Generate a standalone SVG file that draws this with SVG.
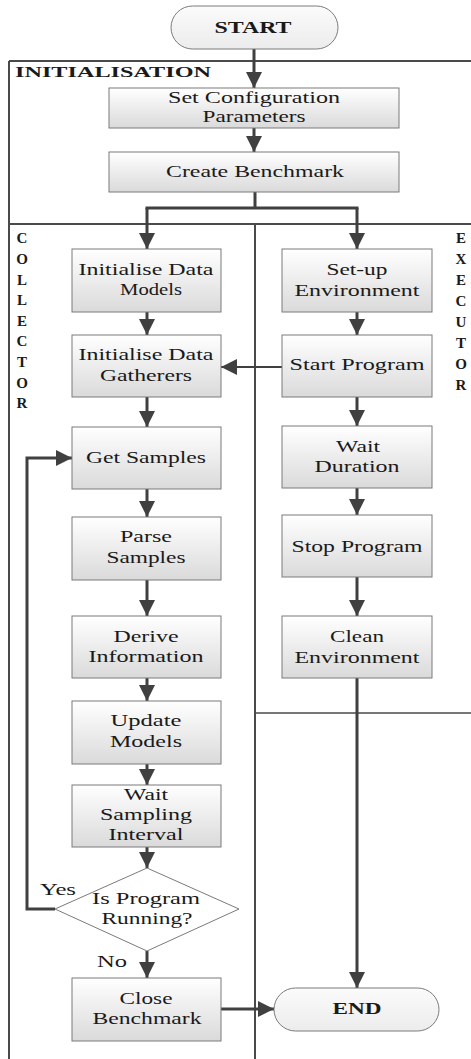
<svg xmlns="http://www.w3.org/2000/svg" width="471" height="1059" viewBox="0 0 471 1059">
<style>
.box{fill:url(#g);stroke:#7a7a7a;stroke-width:1}
.term{fill:url(#g2);stroke:#7a7a7a;stroke-width:1}
.dia{fill:#ffffff;stroke:#7a7a7a;stroke-width:1}
.frame{fill:none;stroke:#4a4a4a;stroke-width:2}
.c{fill:none;stroke:#404040;stroke-width:3;marker-end:url(#ah)}
.cn{fill:none;stroke:#404040;stroke-width:3}
.t{font-family:'Liberation Serif','Times New Roman',serif;font-size:17.5px;fill:#1a1a1a;text-anchor:middle}
.b{font-family:'Liberation Serif','Times New Roman',serif;font-size:17.5px;font-weight:bold;fill:#1a1a1a;text-anchor:middle}
.lane{font-family:'Liberation Serif','Times New Roman',serif;font-size:15px;font-weight:bold;fill:#1a1a1a;text-anchor:middle}
</style>
<defs>
<linearGradient id="g" x1="0" y1="0" x2="0" y2="1">
<stop offset="0" stop-color="#ffffff"/>
<stop offset="1" stop-color="#dadada"/>
</linearGradient>
<linearGradient id="g2" x1="0" y1="0" x2="0" y2="1">
<stop offset="0" stop-color="#fbfbfb"/>
<stop offset="1" stop-color="#ececec"/>
</linearGradient>
<marker id="ah" viewBox="0 0 16 16" refX="16" refY="8" markerWidth="16" markerHeight="16" markerUnits="userSpaceOnUse" orient="auto">
<path d="M0,0 L16,8 L0,16 Z" fill="#404040"/>
</marker>
</defs>

<g id="lanes">
<path class="frame" d="M9,61 H471 M9,61 V1059 M9,224 H471 M255,224 V1059"/>
<path d="M255,713 H471" fill="none" stroke="#4a4a4a" stroke-width="1.5"/>
<text class="b" x="113" y="77" textLength="196" lengthAdjust="spacingAndGlyphs" style="font-size:15px">INITIALISATION</text>
<text class="lane"><tspan x="22" y="243">C</tspan><tspan x="22" y="264">O</tspan><tspan x="22" y="285">L</tspan><tspan x="22" y="305">L</tspan><tspan x="22" y="326">E</tspan><tspan x="22" y="346">C</tspan><tspan x="22" y="367">T</tspan><tspan x="22" y="388">O</tspan><tspan x="22" y="408">R</tspan></text>
<text class="lane"><tspan x="461" y="243">E</tspan><tspan x="461" y="264">X</tspan><tspan x="461" y="285">E</tspan><tspan x="461" y="306">C</tspan><tspan x="461" y="327">U</tspan><tspan x="461" y="348">T</tspan><tspan x="461" y="369">O</tspan><tspan x="461" y="390">R</tspan></text>
</g>

<g id="connectors">
<path class="c" d="M254,49 V88"/>
<path class="c" d="M254,128 V152"/>
<path class="cn" d="M255,192 V208 M145.5,208 H358.5"/>
<path class="c" d="M147,208 V249"/>
<path class="c" d="M357,208 V249"/>
<path class="c" d="M147,312 V335"/>
<path class="c" d="M147,397 V427"/>
<path class="c" d="M147,489 V517"/>
<path class="c" d="M147,580 V616"/>
<path class="c" d="M147,678 V701"/>
<path class="c" d="M147,764 V785"/>
<path class="c" d="M147,847 V868"/>
<path class="c" d="M147,951 V978"/>
<path class="c" d="M55,909 H27 V458 H72"/>
<path class="c" d="M221,1009 H274"/>
<path class="c" d="M357,312 V335"/>
<path class="c" d="M357,397 V426"/>
<path class="c" d="M357,488 V515"/>
<path class="c" d="M357,577 V616"/>
<path class="c" d="M357,678 V988"/>
<path class="c" d="M282,367 H221" style="stroke-width:2"/>
<text class="t" x="58" y="895" textLength="36" lengthAdjust="spacingAndGlyphs">Yes</text>
<text class="t" x="112" y="967" textLength="30" lengthAdjust="spacingAndGlyphs">No</text>
</g>

<g id="start">
<rect class="term" x="171" y="6" width="167" height="43" rx="21.5"/>
<text class="b" x="253" y="33" textLength="77" lengthAdjust="spacingAndGlyphs">START</text>
</g>
<g id="set-config">
<rect class="box" x="109" y="88" width="290" height="40"/>
<text class="t" x="254" y="103" textLength="172" lengthAdjust="spacingAndGlyphs">Set Configuration</text>
<text class="t" x="254" y="122" textLength="103" lengthAdjust="spacingAndGlyphs">Parameters</text>
</g>
<g id="create-benchmark">
<rect class="box" x="109" y="152" width="290" height="40"/>
<text class="t" x="255" y="177" textLength="178" lengthAdjust="spacingAndGlyphs">Create Benchmark</text>
</g>

<g id="init-models">
<rect class="box" x="72" y="249" width="149" height="63"/>
<text class="t" x="146" y="275" textLength="135" lengthAdjust="spacingAndGlyphs">Initialise Data</text>
<text class="t" x="151" y="295" textLength="62" lengthAdjust="spacingAndGlyphs">Models</text>
</g>
<g id="init-gatherers">
<rect class="box" x="72" y="335" width="149" height="62"/>
<text class="t" x="146" y="360" textLength="135" lengthAdjust="spacingAndGlyphs">Initialise Data</text>
<text class="t" x="146" y="381" textLength="92" lengthAdjust="spacingAndGlyphs">Gatherers</text>
</g>
<g id="get-samples">
<rect class="box" x="72" y="427" width="149" height="62"/>
<text class="t" x="146" y="463" textLength="120" lengthAdjust="spacingAndGlyphs">Get Samples</text>
</g>
<g id="parse-samples">
<rect class="box" x="72" y="517" width="149" height="63"/>
<text class="t" x="146" y="542" textLength="52" lengthAdjust="spacingAndGlyphs">Parse</text>
<text class="t" x="146" y="563" textLength="79" lengthAdjust="spacingAndGlyphs">Samples</text>
</g>
<g id="derive-information">
<rect class="box" x="72" y="616" width="149" height="62"/>
<text class="t" x="146" y="642" textLength="65" lengthAdjust="spacingAndGlyphs">Derive</text>
<text class="t" x="146" y="662" textLength="115" lengthAdjust="spacingAndGlyphs">Information</text>
</g>
<g id="update-models">
<rect class="box" x="72" y="701" width="149" height="63"/>
<text class="t" x="146" y="726" textLength="71" lengthAdjust="spacingAndGlyphs">Update</text>
<text class="t" x="146" y="747" textLength="72" lengthAdjust="spacingAndGlyphs">Models</text>
</g>
<g id="wait-sampling">
<rect class="box" x="72" y="785" width="149" height="62"/>
<text class="t" x="146" y="800" textLength="44" lengthAdjust="spacingAndGlyphs">Wait</text>
<text class="t" x="146" y="820" textLength="92" lengthAdjust="spacingAndGlyphs">Sampling</text>
<text class="t" x="146" y="840" textLength="75" lengthAdjust="spacingAndGlyphs">Interval</text>
</g>
<g id="is-running">
<path class="dia" d="M147,868 L239,909 L147,951 L55,909 Z"/>
<text class="t" x="146" y="904" textLength="108" lengthAdjust="spacingAndGlyphs">Is Program</text>
<text class="t" x="147" y="924" textLength="91" lengthAdjust="spacingAndGlyphs">Running?</text>
</g>
<g id="close-benchmark">
<rect class="box" x="72" y="978" width="149" height="63"/>
<text class="t" x="146" y="1004" textLength="53" lengthAdjust="spacingAndGlyphs">Close</text>
<text class="t" x="147" y="1024" textLength="109" lengthAdjust="spacingAndGlyphs">Benchmark</text>
</g>

<g id="setup-env">
<rect class="box" x="282" y="249" width="150" height="63"/>
<text class="t" x="357" y="275" textLength="61" lengthAdjust="spacingAndGlyphs">Set-up</text>
<text class="t" x="357" y="296" textLength="125" lengthAdjust="spacingAndGlyphs">Environment</text>
</g>
<g id="start-program">
<rect class="box" x="282" y="335" width="150" height="62"/>
<text class="t" x="357" y="370" textLength="135" lengthAdjust="spacingAndGlyphs">Start Program</text>
</g>
<g id="wait-duration">
<rect class="box" x="282" y="426" width="150" height="62"/>
<text class="t" x="358" y="452" textLength="44" lengthAdjust="spacingAndGlyphs">Wait</text>
<text class="t" x="357" y="472" textLength="85" lengthAdjust="spacingAndGlyphs">Duration</text>
</g>
<g id="stop-program">
<rect class="box" x="282" y="515" width="150" height="62"/>
<text class="t" x="357" y="552" textLength="131" lengthAdjust="spacingAndGlyphs">Stop Program</text>
</g>
<g id="clean-env">
<rect class="box" x="282" y="616" width="150" height="62"/>
<text class="t" x="357" y="642" textLength="54" lengthAdjust="spacingAndGlyphs">Clean</text>
<text class="t" x="357" y="663" textLength="125" lengthAdjust="spacingAndGlyphs">Environment</text>
</g>
<g id="end">
<rect class="term" x="274" y="988" width="165" height="43" rx="21.5"/>
<text class="b" x="357" y="1014" textLength="49" lengthAdjust="spacingAndGlyphs">END</text>
</g>
</svg>
